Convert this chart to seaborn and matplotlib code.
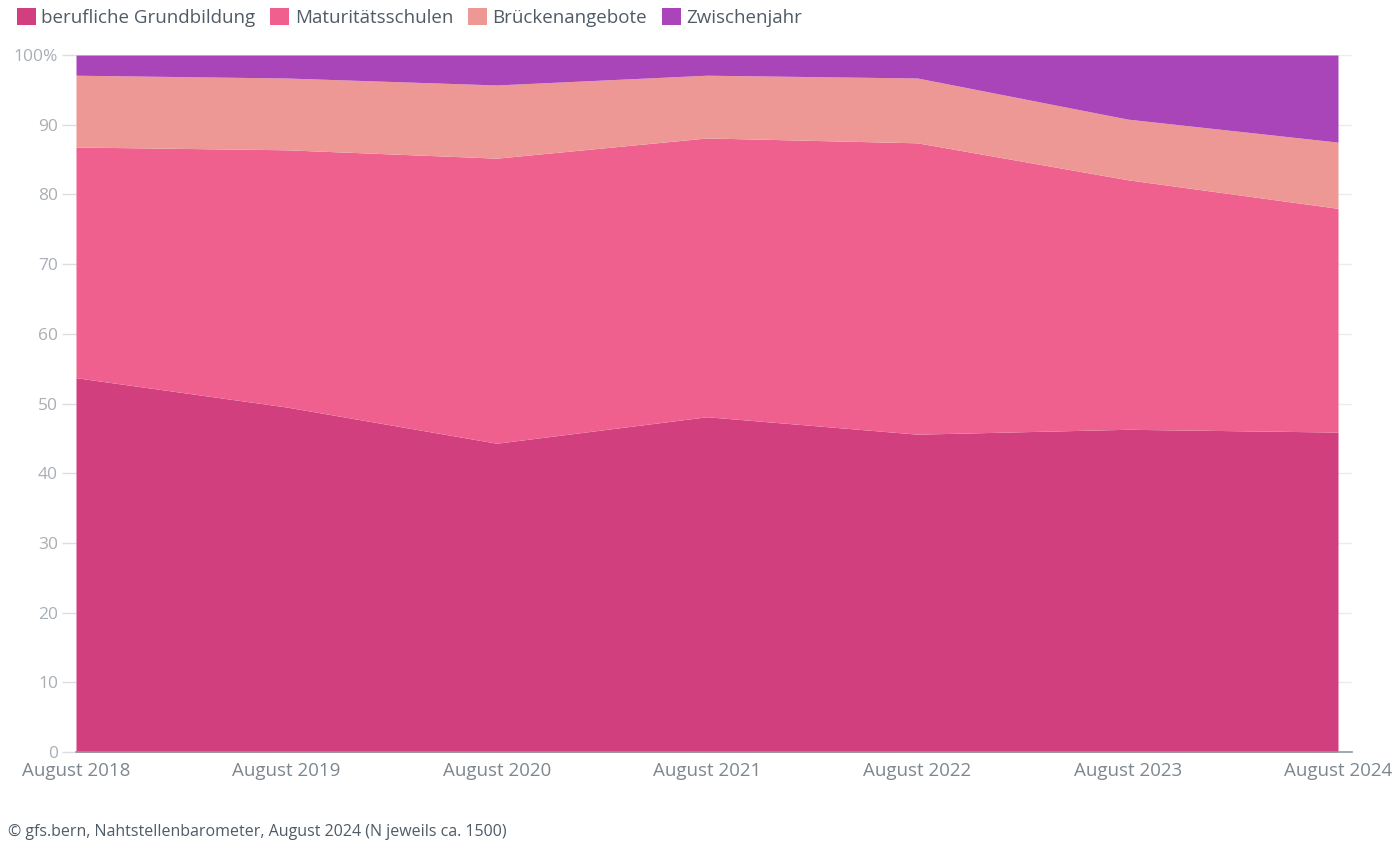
import numpy as np
import pandas as pd
import matplotlib.pyplot as plt
import seaborn as sns
from matplotlib.patches import Patch

YEARS = ["August 2018", "August 2019", "August 2020", "August 2021",
         "August 2022", "August 2023", "August 2024"]
GRUNDBILDUNG = [53.7, 49.5, 44.3, 48.1, 45.6, 46.3, 45.9]
MATURITAET = [33.1, 36.9, 40.9, 40.0, 41.8, 35.8, 32.1]
BRUECKEN = [10.3, 10.3, 10.5, 9.0, 9.3, 8.7, 9.5]
ZWISCHENJAHR = [2.9, 3.3, 4.3, 2.9, 3.3, 9.2, 12.5]
LABELS = ["berufliche Grundbildung", "Maturitätsschulen", "Brückenangebote", "Zwischenjahr"]
COLORS = ["#d13f7e", "#f0608e", "#ee9896", "#a945b9"]

df = pd.DataFrame({
    "Jahr": YEARS,
    LABELS[0]: GRUNDBILDUNG,
    LABELS[1]: MATURITAET,
    LABELS[2]: BRUECKEN,
    LABELS[3]: ZWISCHENJAHR,
})

sns.set_theme(style="white")
plt.rcParams["font.family"] = ["Open Sans", "DejaVu Sans"]

fig = plt.figure(figsize=(14, 8.52), dpi=100)
ax = fig.add_axes([76 / 1400, 1 - 752 / 852, (1352 - 76) / 1400, (752 - 55) / 852])

x = np.arange(len(YEARS))
ax.stackplot(x, *[df[c] for c in LABELS], colors=COLORS, linewidth=0)

pad = 14 / 1262 * (len(YEARS) - 1)
ax.set_xlim(0, len(YEARS) - 1 + pad)
ax.set_ylim(0, 100)

ax.set_yticks(range(0, 101, 10))
ax.set_yticklabels([str(v) for v in range(0, 100, 10)] + ["100%"])
ax.set_xticks(x)
ax.set_xticklabels(YEARS)

ax.yaxis.grid(True, color="#ececec", linewidth=1)
ax.set_axisbelow(True)
for s in ["top", "right", "left"]:
    ax.spines[s].set_visible(False)
ax.spines["bottom"].set_color("#8c99a4")
ax.spines["bottom"].set_linewidth(1.2)

ax.tick_params(axis="y", length=10, color="#dddddd", width=1, labelsize=12.5,
               labelcolor="#a9afb5", pad=3, left=True)
ax.tick_params(axis="x", length=0, labelsize=13.5, labelcolor="#7d8790", pad=7)

handles = [Patch(facecolor=c, edgecolor="none") for c in COLORS]
fig.legend(handles, LABELS, loc="upper left", bbox_to_anchor=(0.0, 1.01), ncol=4,
           frameon=False, fontsize=13.5, handlelength=1.0, handleheight=1.0,
           handletextpad=0.3, columnspacing=0.8, labelcolor="#4f5b66")

fig.text(8 / 1400, 1 - 832 / 852, "© gfs.bern, Nahtstellenbarometer, August 2024 (N jeweils ca. 1500)",
         fontsize=11.5, color="#4f5b66", va="center", ha="left")

fig.savefig("out.png", dpi=100)
